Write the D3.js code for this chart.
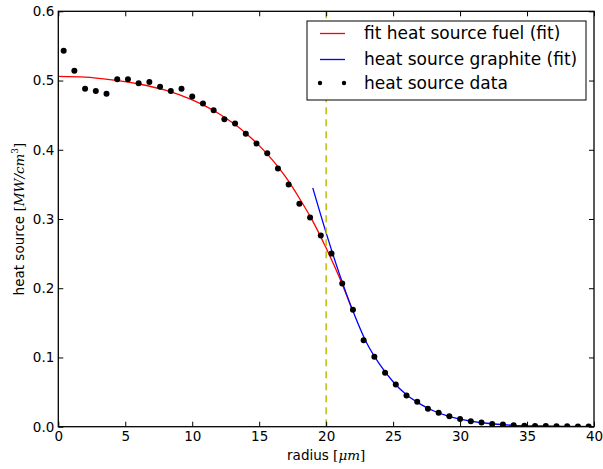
<!DOCTYPE html>
<html>
<head>
<meta charset="utf-8">
<script src="https://cdn.jsdelivr.net/npm/d3@7"></script>
<style>
  body { margin: 0; background: #fff; }
  text { font-family: "DejaVu Sans", sans-serif; }
  .math { font-family: "DejaVu Serif", serif; }
</style>
</head>
<body>
<svg id="chart"></svg>
<script>
// measured data points
const dataX = [0.4, 1.2, 2.0, 2.8, 3.6, 4.4, 5.2, 6.0, 6.8, 7.6, 8.4, 9.2, 10.0, 10.8, 11.6, 12.4,
  13.2, 14.0, 14.8, 15.6, 16.4, 17.2, 18.0, 18.8, 19.6, 20.4, 21.2, 22.0, 22.8, 23.6, 24.4, 25.2,
  26.0, 26.8, 27.6, 28.4, 29.2, 30.0, 30.8, 31.6, 32.4, 33.2, 34.0, 34.8, 35.6, 36.4, 37.2, 38.0, 38.8, 39.6];
const dataY = [0.543, 0.514, 0.488, 0.485, 0.481, 0.502, 0.502, 0.496, 0.498, 0.491, 0.485, 0.488, 0.477, 0.467, 0.457, 0.444,
  0.438, 0.423, 0.409, 0.395, 0.373, 0.350, 0.322, 0.302, 0.276, 0.250, 0.207, 0.169, 0.125, 0.101, 0.078, 0.061,
  0.045, 0.036, 0.026, 0.020, 0.015, 0.011, 0.008, 0.006, 0.004, 0.003, 0.002, 0.0015, 0.001, 0.001, 0.0005, 0.0005, 0.0003, 0.0002];

// fuel fit curve
const fuelX = [0, 2, 4, 6, 8, 10, 12, 14, 15, 16, 17, 18, 19, 20, 21, 22];
const fuelY = [0.506, 0.505, 0.501, 0.495, 0.486, 0.472, 0.452, 0.424, 0.406, 0.385, 0.360, 0.330, 0.297, 0.258, 0.215, 0.166];

// graphite fit curve
const graphX = [19, 20, 21, 22, 23, 24, 25, 26, 27, 28, 29, 30, 32, 34, 36, 38, 40];
const graphY = [0.345, 0.280, 0.220, 0.167, 0.122, 0.090, 0.065, 0.046, 0.033, 0.023, 0.016, 0.011, 0.005, 0.002, 0.001, 0.0005, 0.0002];

const boundary = 20;
const xTicks = [0, 5, 10, 15, 20, 25, 30, 35, 40];
const yTicks = [0.0, 0.1, 0.2, 0.3, 0.4, 0.5, 0.6];
const legendLabels = ['fit heat source fuel (fit)', 'heat source graphite (fit)', 'heat source data'];

const W = 603, H = 469;
const margin = {top: 11.3, right: 9, bottom: 42.3, left: 58.3};
const width = W - margin.left - margin.right;
const height = H - margin.top - margin.bottom;

const svg = d3.select('#chart').attr('width', W).attr('height', H);
const g = svg.append('g').attr('transform', `translate(${margin.left},${margin.top})`);

const x = d3.scaleLinear().domain([0, 40]).range([0, width]);
const y = d3.scaleLinear().domain([0, 0.6]).range([height, 0]);

// clip for curves
svg.append('clipPath').attr('id', 'clip').append('rect').attr('width', width).attr('height', height);
const plot = g.append('g').attr('clip-path', 'url(#clip)');

const line = d3.line().x((d) => x(d[0])).y((d) => y(d[1])).curve(d3.curveMonotoneX);

plot.append('path')
  .datum(fuelX.map((v, i) => [v, fuelY[i]]))
  .attr('d', line).attr('fill', 'none').attr('stroke', '#ff0000').attr('stroke-width', 1.3);

plot.append('path')
  .datum(graphX.map((v, i) => [v, graphY[i]]))
  .attr('d', line).attr('fill', 'none').attr('stroke', '#0000ff').attr('stroke-width', 1.3);

plot.append('line')
  .attr('x1', x(boundary)).attr('x2', x(boundary)).attr('y1', 0).attr('y2', height)
  .attr('stroke', '#bfbf00').attr('stroke-width', 1.5).attr('stroke-dasharray', '7,5');

plot.selectAll('circle.pt').data(dataX.map((v, i) => [v, dataY[i]])).join('circle')
  .attr('class', 'pt')
  .attr('cx', (d) => x(d[0])).attr('cy', (d) => y(d[1])).attr('r', 3).attr('fill', '#000');

// axes (classic style: ticks inside, on all sides)
const tickLen = 5;
const axB = g.append('g').attr('transform', `translate(0,${height})`)
  .call(d3.axisBottom(x).tickValues(xTicks).tickSize(-tickLen).tickPadding(5).tickFormat(d3.format('d')));
const axT = g.append('g')
  .call(d3.axisTop(x).tickValues(xTicks).tickSize(-tickLen).tickFormat(''));
const axL = g.append('g')
  .call(d3.axisLeft(y).tickValues(yTicks).tickSize(-tickLen).tickPadding(4).tickFormat(d3.format('.1f')));
const axR = g.append('g').attr('transform', `translate(${width},0)`)
  .call(d3.axisRight(y).tickValues(yTicks).tickSize(-tickLen).tickFormat(''));

[axB, axT, axL, axR].forEach((a) => {
  a.select('.domain').remove();
  a.selectAll('line').attr('stroke', '#000').attr('stroke-width', 1);
  a.selectAll('text').attr('font-size', 13.5).attr('fill', '#000').style('font-family', '"DejaVu Sans", sans-serif');
});

g.append('rect').attr('width', width).attr('height', height)
  .attr('fill', 'none').attr('stroke', '#000').attr('stroke-width', 1.3);

// axis labels
const xl = svg.append('text').attr('x', margin.left + width / 2).attr('y', 459.5)
  .attr('text-anchor', 'middle').attr('font-size', 13.5);
xl.append('tspan').text('radius ');
xl.append('tspan').attr('class', 'math').text('[');
xl.append('tspan').attr('class', 'math').attr('font-style', 'italic').text('μm');
xl.append('tspan').attr('class', 'math').text(']');

const yl = svg.append('text').attr('transform', `translate(23.5,${margin.top + height / 2}) rotate(-90)`)
  .attr('text-anchor', 'middle').attr('font-size', 13.5);
yl.append('tspan').text('heat source ');
yl.append('tspan').attr('class', 'math').text('[');
yl.append('tspan').attr('class', 'math').attr('font-style', 'italic').text('MW/cm');
yl.append('tspan').attr('class', 'math').attr('font-size', 9).attr('dy', -6).text('3');
yl.append('tspan').attr('class', 'math').attr('dy', 6).text(']');

// legend
const lg = svg.append('g').attr('transform', 'translate(307,21)');
lg.append('rect').attr('width', 279).attr('height', 79)
  .attr('fill', '#fff').attr('stroke', '#000').attr('stroke-width', 1);
const rowY = [12.5, 38.5, 62];
const legendColors = ['#ff0000', '#0000ff', null];
legendLabels.forEach((lab, i) => {
  const row = lg.append('g').attr('transform', `translate(0,${rowY[i]})`);
  if (legendColors[i]) {
    row.append('line').attr('x1', 13).attr('x2', 38).attr('stroke', legendColors[i]).attr('stroke-width', 1.3);
  } else {
    row.selectAll('circle').data([13, 37]).join('circle')
      .attr('cx', (d) => d).attr('cy', 0).attr('r', 2.2).attr('fill', '#000');
  }
  row.append('text').attr('x', 57).attr('y', 0).attr('dy', '0.35em')
    .attr('font-size', 17).text(lab);
});
</script>
</body>
</html>
